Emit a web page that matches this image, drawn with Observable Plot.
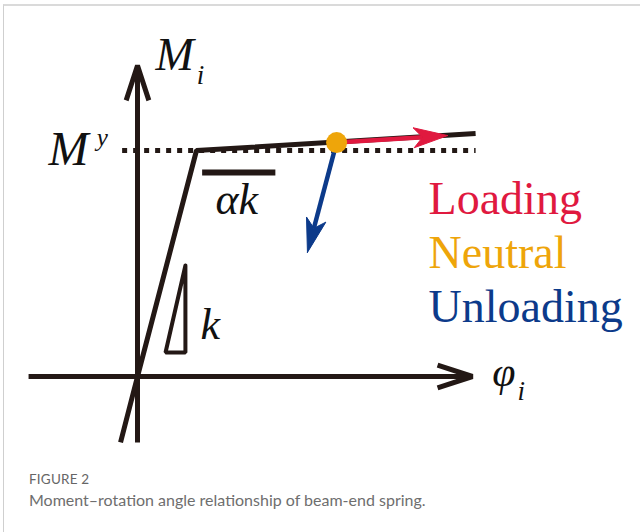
<!DOCTYPE html>
<html>
<head>
<meta charset="utf-8">
<script src="https://cdn.jsdelivr.net/npm/d3@7"></script>
<script src="https://cdn.jsdelivr.net/npm/@observablehq/plot@0.6"></script>
<style>
  html, body { margin: 0; padding: 0; background: #fff; }
  #wrap { position: relative; width: 640px; height: 532px; overflow: hidden; background: #fff; }
  #frame { position: absolute; left: 3px; top: 4px; right: -4px; bottom: -4px;
           border-top: 2px solid #dadada; border-left: 1px solid #cfcfcf; pointer-events: none; z-index: 2; }
  #chart { position: absolute; left: 0; top: 0; }
  #caption { position: absolute; left: 29px; top: 471px; font-family: Lato, "Open Sans", sans-serif; color: #6a6a6a; line-height: 1.2; }
  #caption .fig { font-size: 13.5px; font-weight: 400; color: #666; letter-spacing: 0.2px; }
  #caption .txt { font-size: 16px; margin-top: 3px; color: #6e6e6e; }
</style>
</head>
<body>
<div id="wrap">
  <div id="chart"></div>
  <div id="frame"></div>
  <div id="caption">
    <div class="fig">FIGURE 2</div>
    <div class="txt">Moment–rotation angle relationship of beam-end spring.</div>
  </div>
</div>
<script>
// ---- Data (diagram units: rotation φ and moment M, yield moment My = 1) ----
// Axes (start -> end, drawn as arrows)
const axisX1 = [0, -0.482];
const axisY1 = [-0.292, 0];
const axisX2 = [0, 1.482];
const axisY2 = [1.376, 0];

// Bilinear moment–rotation curve
const curvePhi = [-0.075, 0, 0.261, 1.496];
const curveM   = [-0.292, 0, 1.0, 1.075];

// Yield moment level (dotted)
const yieldPhi = [-0.068, 1.496];
const yieldM   = [1.0, 1.0];

// Current state point (neutral) and loading / unloading directions
const statePhi = [0.881];
const stateM   = [1.035];
const dirNames = ["Loading", "Unloading"];
const dirPhi   = [1.372, 0.752];
const dirM     = [1.066, 0.549];

// Stiffness symbols
const alphaBarPhi = [0.286, 0.610];
const alphaBarM   = [0.903, 0.903];
const trianglePhi = [0.212, 0.212, 0.124, 0.212];
const triangleM   = [0.491, 0.106, 0.106, 0.491];

// Math labels
const mathText = ["M", "i", "M", "y", "αk", "k", "φ", "i"];
const mathPhi  = [0.080, 0.262, -0.394, -0.180, 0.345, 0.279, 1.570, 1.681];
const mathM    = [1.354, 1.296, 0.938, 1.020, 0.721, 0.168, -0.040, -0.106];
const mathSize = [46, 27, 48, 25, 44, 44, 42, 27];

// Legend
const legendText  = ["Loading", "Neutral", "Unloading"];
const legendColor = ["#e0193f", "#eea50a", "#0c3a8a"];
const legendPhi   = [1.288, 1.288, 1.288];
const legendM     = [0.721, 0.482, 0.239];

// ---- Build tables ----
const ink = "#231815";
const dirColor = {Loading: "#e0193f", Unloading: "#0c3a8a"};
const axes = axisX1.map((_, i) => ({x1: axisX1[i], y1: axisY1[i], x2: axisX2[i], y2: axisY2[i]}));
const curve = curvePhi.map((p, i) => ({phi: p, m: curveM[i]}));
const yieldLine = yieldPhi.map((p, i) => ({phi: p, m: yieldM[i]}));
const state = statePhi.map((p, i) => ({phi: p, m: stateM[i]}));
const alphaBar = alphaBarPhi.map((p, i) => ({phi: p, m: alphaBarM[i]}));
const triangle = trianglePhi.map((p, i) => ({phi: p, m: triangleM[i]}));
const labels = mathText.map((t, i) => ({t, phi: mathPhi[i], m: mathM[i], s: mathSize[i]}));
const legend = legendText.map((t, i) => ({t, c: legendColor[i], phi: legendPhi[i], m: legendM[i]}));

// Direction arrows: shaft + filled stealth head derived from start/tip
const unitPx = 226;
const headL = 34 / unitPx, headW = 10 / unitPx, notch = 9 / unitPx;
const shafts = [], heads = [];
dirNames.forEach((name, i) => {
  const x0 = statePhi[0], y0 = stateM[0], x1 = dirPhi[i], y1 = dirM[i];
  const len = Math.hypot(x1 - x0, y1 - y0);
  const dx = (x1 - x0) / len, dy = (y1 - y0) / len, nx = -dy, ny = dx;
  shafts.push({name, x1: x0, y1: y0, x2: x1 - dx * (headL - notch), y2: y1 - dy * (headL - notch)});
  const pts = [
    [x1, y1],
    [x1 - dx * headL + nx * headW, y1 - dy * headL + ny * headW],
    [x1 - dx * (headL - notch), y1 - dy * (headL - notch)],
    [x1 - dx * headL - nx * headW, y1 - dy * headL - ny * headW],
    [x1, y1]
  ];
  pts.forEach(([px, py]) => heads.push({name, phi: px, m: py}));
});

const serif = "Liberation Serif, Times New Roman, serif";

const chart = Plot.plot({
  width: 640,
  height: 460,
  marginTop: 0, marginRight: 0, marginBottom: 0, marginLeft: 0,
  style: {background: "transparent"},
  x: {domain: [-137 / unitPx, 503 / unitPx], axis: null},
  y: {domain: [(376 - 460) / unitPx, 376 / unitPx], axis: null},
  marks: [
    // axes with open arrowheads
    Plot.arrow(axes, {x1: "x1", y1: "y1", x2: "x2", y2: "y2", stroke: ink, strokeWidth: 5,
      headLength: 11, headAngle: 36, strokeLinejoin: "miter", strokeLinecap: "butt"}),
    // yield level, dotted
    Plot.line(yieldLine, {x: "phi", y: "m", stroke: ink, strokeWidth: 5, strokeDasharray: "5 6", strokeLinecap: "butt"}),
    // bilinear curve
    Plot.line(curve, {x: "phi", y: "m", stroke: ink, strokeWidth: 5, strokeLinejoin: "miter", strokeLinecap: "butt"}),
    // alpha k bar
    Plot.line(alphaBar, {x: "phi", y: "m", stroke: ink, strokeWidth: 6, strokeLinecap: "butt"}),
    // k triangle
    Plot.line(triangle, {x: "phi", y: "m", stroke: ink, strokeWidth: 4, strokeLinejoin: "miter"}),
    // direction arrows
    Plot.link(shafts, {x1: "x1", y1: "y1", x2: "x2", y2: "y2", stroke: d => dirColor[d.name], strokeWidth: 4.5}),
    Plot.line(heads, {x: "phi", y: "m", z: "name", fill: d => dirColor[d.name], stroke: d => dirColor[d.name], strokeWidth: 1, strokeLinejoin: "miter"}),
    // neutral state point
    Plot.dot(state, {x: "phi", y: "m", r: 10.5, fill: "#eea50a", stroke: "none"}),
    // math labels
    ...labels.map(d => Plot.text([d], {x: "phi", y: "m", text: "t", fontSize: d.s, fontFamily: serif, fontStyle: "italic",
      textAnchor: "start", lineAnchor: "bottom", fill: "#111"})),
    // legend
    Plot.text(legend, {x: "phi", y: "m", text: "t", fill: "c", fontSize: 46, fontFamily: serif,
      textAnchor: "start", lineAnchor: "bottom"})
  ]
});
document.getElementById("chart").appendChild(chart);
</script>
</body>
</html>
